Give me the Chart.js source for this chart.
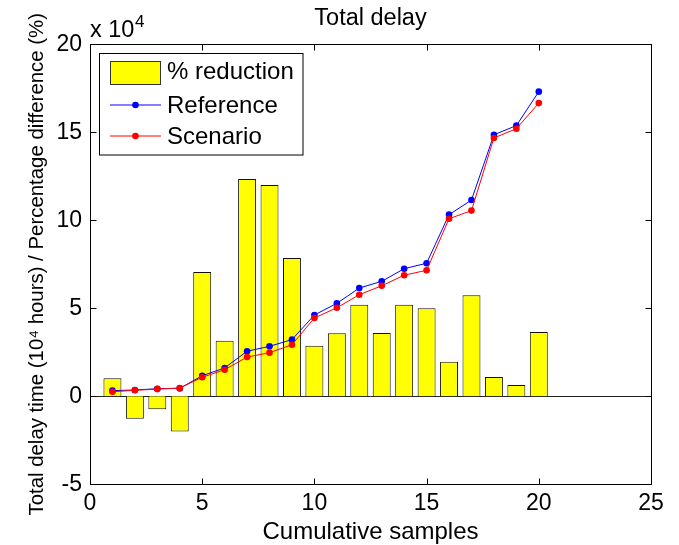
<!DOCTYPE html>
<html>
<head>
<meta charset="utf-8">
<title>Total delay</title>
<script src="https://cdn.jsdelivr.net/npm/chart.js@4.4.1/dist/chart.umd.min.js"></script>
<style>
  html, body { margin: 0; padding: 0; background: #fff; }
  #wrap { width: 679px; height: 545px; }
</style>
</head>
<body>
<div id="wrap"><canvas id="grafico" width="679" height="545"></canvas></div>
<script>
// Data =====================================================================

const samples = [1, 2, 3, 4, 5, 6, 7, 8, 9, 10, 11, 12, 13, 14, 15, 16, 17, 18, 19, 20];
// % reduction (bars)
const reduction = [1.02, -1.27, -0.74, -2.0, 7.06, 3.16, 12.35, 12.0, 7.86, 2.87,
  3.58, 5.2, 3.6, 5.2, 5.0, 1.97, 5.74, 1.1, 0.64, 3.65];
// total delay, x 10^4 hours
const reference = [0.32, 0.36, 0.43, 0.45, 1.17, 1.61, 2.56, 2.84, 3.22, 4.62,
  5.28, 6.15, 6.53, 7.25, 7.56, 10.32, 11.15, 14.86, 15.38, 17.31];
const scenario = [0.26, 0.34, 0.41, 0.47, 1.08, 1.51, 2.23, 2.48, 2.93, 4.45,
  5.03, 5.77, 6.28, 6.88, 7.16, 10.09, 10.55, 14.68, 15.2, 16.66];

const xTicks = [0, 5, 10, 15, 20, 25];
const yTicks = [-5, 0, 5, 10, 15, 20];

const FONT = "'Liberation Sans', Arial, Helvetica, sans-serif";
Chart.defaults.font.family = FONT;
Chart.defaults.color = "#000";

const pts = (vals) => samples.map((s, i) => ({ x: s, y: vals[i] }));

// MATLAB look: box, inward ticks, baseline, exponent, legend ===============

const matlabBox = {
  id: "matlabBox",
  beforeDatasetsDraw(chart) {
    const { ctx, chartArea: a, scales } = chart;
    const y0 = Math.round(scales.y.getPixelForValue(0)) + 0.5;
    ctx.save();
    ctx.strokeStyle = "#222";
    ctx.lineWidth = 1;
    ctx.beginPath();
    ctx.moveTo(a.left, y0);
    ctx.lineTo(a.right, y0);
    ctx.stroke();
    ctx.restore();
  },
  afterDraw(chart) {
    const { ctx, chartArea: a, scales } = chart;
    const L = Math.round(a.left) + 0.5;
    const R = Math.round(a.right) + 0.5;
    const T = Math.round(a.top) + 0.5;
    const B = Math.round(a.bottom) + 0.5;
    const tl = 6;
    ctx.save();
    ctx.strokeStyle = "#000";
    ctx.lineWidth = 1;
    ctx.strokeRect(L, T, R - L, B - T);
    ctx.beginPath();
    scales.x.ticks.forEach((t) => {
      const px = Math.round(scales.x.getPixelForValue(t.value)) + 0.5;
      ctx.moveTo(px, B); ctx.lineTo(px, B - tl);
      ctx.moveTo(px, T); ctx.lineTo(px, T + tl);
    });
    scales.y.ticks.forEach((t) => {
      const py = Math.round(scales.y.getPixelForValue(t.value)) + 0.5;
      ctx.moveTo(L, py); ctx.lineTo(L + tl, py);
      ctx.moveTo(R, py); ctx.lineTo(R - tl, py);
    });
    ctx.stroke();

    // "x 10^4" above the y axis
    ctx.fillStyle = "#000";
    ctx.textAlign = "left";
    ctx.textBaseline = "alphabetic";
    ctx.font = "23.5px " + FONT;
    ctx.fillText("x 10", a.left, 36.5);
    const w = ctx.measureText("x 10").width;
    ctx.font = "17px " + FONT;
    ctx.fillText("4", a.left + w + 0.5, 26.5);

    // legend
    const lx = 99.5, ly = 53.5, lw = 203.5, lh = 101.5;
    ctx.fillStyle = "#fff";
    ctx.fillRect(lx, ly, lw, lh);
    ctx.strokeRect(lx, ly, lw, lh);
    const rows = [72.5, 106, 137];
    ctx.font = "24px " + FONT;
    chart.data.datasets.forEach((ds, i) => {
      const cy = rows[i];
      if (ds.type === "line") {
        ctx.strokeStyle = ds.borderColor;
        ctx.lineWidth = 1;
        ctx.beginPath();
        ctx.moveTo(110, cy - 1);
        ctx.lineTo(161, cy - 1);
        ctx.stroke();
        ctx.fillStyle = ds.pointBackgroundColor;
        ctx.beginPath();
        ctx.arc(135.5, cy - 1, ds.pointRadius, 0, Math.PI * 2);
        ctx.fill();
      } else {
        ctx.fillStyle = ds.backgroundColor;
        ctx.fillRect(110.5, 61.5, 50, 23);
        ctx.strokeStyle = "#333";
        ctx.strokeRect(110.5, 61.5, 50, 23);
      }
      ctx.fillStyle = "#000";
      ctx.textBaseline = "middle";
      ctx.fillText(ds.label, 167, cy);
    });
    ctx.restore();
  },
};

// Chart ====================================================================

const data = {
  datasets: [
    {
      type: "bar",
      label: "% reduction",
      data: pts(reduction),
      backgroundColor: "#ffff00",
      borderColor: "#111",
      borderWidth: 1,
      barPercentage: 0.8,
      categoryPercentage: 1,
      order: 3,
    },
    {
      type: "line",
      label: "Reference",
      data: pts(reference),
      borderColor: "#0000ff",
      backgroundColor: "#0000ff",
      pointBackgroundColor: "#0000ff",
      borderWidth: 1,
      pointRadius: 3.3,
      pointBorderWidth: 0,
      tension: 0,
      order: 2,
    },
    {
      type: "line",
      label: "Scenario",
      data: pts(scenario),
      borderColor: "#ff0000",
      backgroundColor: "#ff0000",
      pointBackgroundColor: "#ff0000",
      borderWidth: 1,
      pointRadius: 3.3,
      pointBorderWidth: 0,
      tension: 0,
      order: 1,
    },
  ],
};

const config = {
  type: "bar",
  data: data,
  plugins: [matlabBox],
  options: {
    responsive: false,
    animation: false,
    devicePixelRatio: 1,
    layout: { padding: { top: 0, right: 28, bottom: 0, left: 0 } },
    plugins: {
      legend: { display: false },
      tooltip: { enabled: false },
      title: {
        display: true,
        text: "Total delay",
        fullSize: false,
        color: "#000",
        font: { size: 23.5, weight: "normal" },
        padding: { top: 4.5, bottom: 11.6 },
      },
    },
    scales: {
      x: {
        type: "linear",
        min: 0,
        max: 25,
        offset: false,
        grid: { display: false, drawTicks: false },
        border: { display: false },
        afterBuildTicks: (s) => { s.ticks = xTicks.map((v) => ({ value: v })); },
        afterFit: (s) => { s.height = 60.7; },
        ticks: { font: { size: 23 }, color: "#000", padding: 6, maxRotation: 0 },
        title: {
          display: true,
          text: "Cumulative samples",
          color: "#000",
          font: { size: 24 },
          padding: { top: 0, bottom: -2 },
        },
      },
      y: {
        min: -5,
        max: 20,
        grid: { display: false, drawTicks: false },
        border: { display: false },
        afterBuildTicks: (s) => { s.ticks = yTicks.map((v) => ({ value: v })); },
        afterFit: (s) => { s.width = 90; },
        ticks: { font: { size: 23 }, color: "#000", padding: 8 },
        title: {
          display: true,
          text: "Total delay time (10\u2074 hours) / Percentage difference (%)",
          color: "#000",
          font: { size: 20.4 },
          padding: { top: 25, bottom: 0 },
        },
      },
    },
  },
};

const grafico = new Chart(document.getElementById("grafico"), config);
</script>
</body>
</html>
